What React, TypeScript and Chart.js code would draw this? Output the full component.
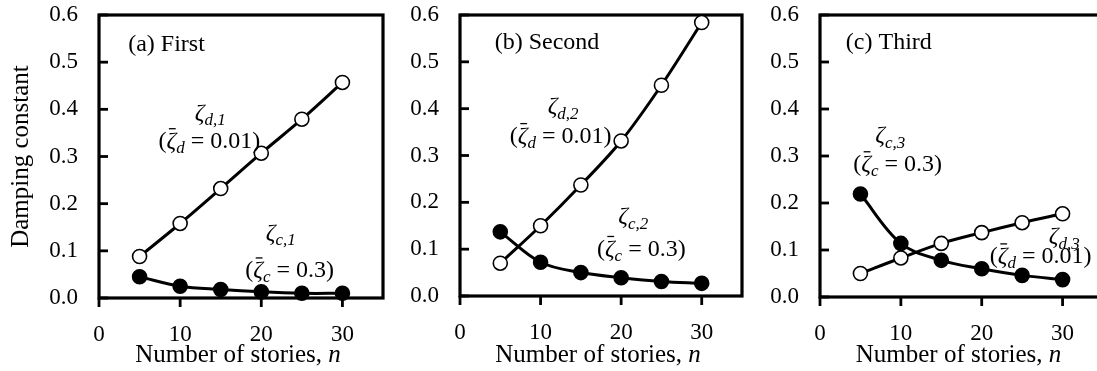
import React, { useEffect, useRef } from "react";
import { Chart, registerables } from "chart.js";
Chart.register(...registerables);

// ---------------- data ----------------
const stories = [5, 10, 15, 20, 25, 30];
const xTickValues = [0, 10, 20, 30];
const yTickValues = [0, 0.1, 0.2, 0.3, 0.4, 0.5, 0.6];

const zetaD1 = [0.088, 0.158, 0.232, 0.307, 0.379, 0.457];
const zetaC1 = [0.045, 0.025, 0.018, 0.013, 0.01, 0.01];
const zetaD2 = [0.07, 0.15, 0.237, 0.331, 0.45, 0.584];
const zetaC2 = [0.137, 0.072, 0.05, 0.039, 0.031, 0.027];
const zetaD3 = [0.05, 0.083, 0.114, 0.137, 0.158, 0.177];
const zetaC3 = [0.219, 0.114, 0.078, 0.06, 0.046, 0.037];

const panelTitles = ["(a) First", "(b) Second", "(c) Third"];
const xAxisTitle = "Number of stories, ";
const xAxisVar = "n";
const yAxisTitle = "Damping constant";

// ---------------- styling / layout ----------------
const FAM = '"Liberation Serif", "Times New Roman", Times, serif';
const TICK_SIZE = 23;
const ANN_SIZE = 24;
const TITLE_SIZE = 25;

type Seg = { t: string; it?: boolean; sub?: boolean; bar?: boolean };
type Ann = { x: number; y: number; segs: Seg[] };

const zetaLabel = (s: string, n: string): Seg[] => [
  { t: "\u03b6", it: true },
  { t: s + "," + n, it: true, sub: true },
];
const barLabel = (s: string, v: string): Seg[] => [
  { t: "(" },
  { t: "\u03b6", it: true, bar: true },
  { t: s, it: true, sub: true },
  { t: " = " + v + ")" },
];

const panels = [
  {
    left: 0, width: 395, yWidth: 99, padRight: 12, bottom: 298, showYTitle: true,
    open: zetaD1, filled: zetaC1, title: panelTitles[0], titleX: 3.6, titleY: 0.536,
    anns: [
      { x: 13.7, y: 0.395, segs: zetaLabel("d", "1") },
      { x: 13.6, y: 0.335, segs: barLabel("d", "0.01") },
      { x: 22.4, y: 0.14, segs: zetaLabel("c", "1") },
      { x: 23.5, y: 0.061, segs: barLabel("c", "0.3") },
    ] as Ann[],
  },
  {
    left: 400, width: 352, yWidth: 60, padRight: 10, bottom: 296, showYTitle: false,
    open: zetaD2, filled: zetaC2, title: panelTitles[1], titleX: 4.3, titleY: 0.54,
    anns: [
      { x: 12.8, y: 0.407, segs: zetaLabel("d", "2") },
      { x: 12.5, y: 0.344, segs: barLabel("d", "0.01") },
      { x: 21.5, y: 0.172, segs: zetaLabel("c", "2") },
      { x: 22.5, y: 0.103, segs: barLabel("c", "0.3") },
    ] as Ann[],
  },
  {
    left: 760, width: 355, yWidth: 60, padRight: 12, bottom: 297, showYTitle: false,
    open: zetaD3, filled: zetaC3, title: panelTitles[2], titleX: 3.2, titleY: 0.54,
    anns: [
      { x: 8.7, y: 0.346, segs: zetaLabel("c", "3") },
      { x: 9.6, y: 0.285, segs: barLabel("c", "0.3") },
      { x: 30.2, y: 0.131, segs: zetaLabel("d", "3") },
      { x: 27.3, y: 0.089, segs: barLabel("d", "0.01") },
    ] as Ann[],
  },
];

const H = 371;

function segFont(s: Seg, size: number) {
  const sz = s.sub ? Math.round(size * 0.7) : size;
  return `${s.it ? "italic " : ""}${sz}px ${FAM}`;
}

function drawRich(ctx: CanvasRenderingContext2D, segs: Seg[], cx: number, cy: number, size: number) {
  let total = 0;
  const ws: number[] = [];
  for (const s of segs) {
    ctx.font = segFont(s, size);
    const w = ctx.measureText(s.t).width;
    ws.push(w);
    total += w;
  }
  let x = cx - total / 2;
  const base = cy + size * 0.33;
  ctx.fillStyle = "#000";
  ctx.textAlign = "left";
  ctx.textBaseline = "alphabetic";
  segs.forEach((s, i) => {
    ctx.font = segFont(s, size);
    const y = s.sub ? base + size * 0.22 : base;
    ctx.fillText(s.t, x, y);
    if (s.bar) {
      ctx.strokeStyle = "#000";
      ctx.lineWidth = 1.3;
      ctx.beginPath();
      ctx.moveTo(x + ws[i] * 0.25, base - size * 0.8);
      ctx.lineTo(x + ws[i] * 0.95, base - size * 0.8);
      ctx.stroke();
    }
    x += ws[i];
  });
}

function makeChart(canvas: HTMLCanvasElement, p: (typeof panels)[number]) {
  const pts = (arr: number[]) => stories.map((n, i) => ({ x: n, y: arr[i] }));
  const framePlugin = {
    id: "frame",
    beforeDatasetsDraw(chart: any) {
      const { ctx, chartArea: a, scales } = chart;
      ctx.save();
      ctx.strokeStyle = "#000";
      ctx.lineWidth = 3.2;
      ctx.strokeRect(a.left, a.top, a.right - a.left, a.bottom - a.top);
      ctx.lineWidth = 2.8;
      for (const v of yTickValues) {
        const py = scales.y.getPixelForValue(v);
        ctx.beginPath();
        ctx.moveTo(a.left, py);
        ctx.lineTo(a.left + 9, py);
        ctx.stroke();
      }
      for (const v of xTickValues) {
        const px = scales.x.getPixelForValue(v);
        ctx.beginPath();
        ctx.moveTo(px, a.bottom);
        ctx.lineTo(px, a.bottom + 9);
        ctx.stroke();
      }
      ctx.restore();
    },
    afterDatasetsDraw(chart: any) {
      const { ctx, chartArea: a, scales } = chart;
      ctx.save();
      // panel title
      ctx.fillStyle = "#000";
      ctx.font = `${ANN_SIZE}px ${FAM}`;
      ctx.textAlign = "left";
      ctx.textBaseline = "middle";
      ctx.fillText(p.title, scales.x.getPixelForValue(p.titleX), scales.y.getPixelForValue(p.titleY));
      for (const an of p.anns) {
        drawRich(ctx, an.segs, scales.x.getPixelForValue(an.x), scales.y.getPixelForValue(an.y), ANN_SIZE);
      }
      // x axis title with italic n
      ctx.textBaseline = "alphabetic";
      ctx.font = `${TITLE_SIZE}px ${FAM}`;
      const w1 = ctx.measureText(xAxisTitle).width;
      ctx.font = `italic ${TITLE_SIZE}px ${FAM}`;
      const w2 = ctx.measureText(xAxisVar).width;
      const cx = (a.left + a.right) / 2 - 3;
      const x = cx - (w1 + w2) / 2;
      ctx.font = `${TITLE_SIZE}px ${FAM}`;
      ctx.fillText(xAxisTitle, x, 362);
      ctx.font = `italic ${TITLE_SIZE}px ${FAM}`;
      ctx.fillText(xAxisVar, x + w1, 362);
      ctx.restore();
    },
  };

  const common = {
    borderColor: "#000",
    borderWidth: 3,
    pointRadius: 7,
    pointHoverRadius: 7,
    pointBorderColor: "#000",
    pointBorderWidth: 1.6,
    tension: 0.35,
    clip: false as any,
    fill: false,
  };

  const zeroPad = (s: any) => {
    s.paddingTop = 0;
    s.paddingBottom = 0;
    s.paddingLeft = 0;
    s.paddingRight = 0;
  };

  return new Chart(canvas, {
    type: "line",
    data: {
      datasets: [
        { ...common, label: "open", data: pts(p.open), pointBackgroundColor: "#fff" },
        { ...common, label: "filled", data: pts(p.filled), pointBackgroundColor: "#000" },
      ],
    },
    options: {
      responsive: false,
      maintainAspectRatio: false,
      animation: false,
      events: [],
      layout: { padding: { top: 15, right: p.padRight, bottom: 0, left: 0 } },
      plugins: { legend: { display: false }, tooltip: { enabled: false }, title: { display: false } },
      scales: {
        x: {
          type: "linear",
          min: 0,
          max: 35,
          afterBuildTicks: (s: any) => {
            s.ticks = xTickValues.map((v) => ({ value: v }));
          },
          afterFit: (s: any) => {
            s.height = H - p.bottom;
            zeroPad(s);
          },
          grid: { display: false, drawTicks: false },
          border: { display: false },
          ticks: {
            color: "#000",
            padding: 23,
            maxRotation: 0,
            font: { family: FAM, size: TICK_SIZE },
            callback: (v: any) => String(v),
          },
        },
        y: {
          type: "linear",
          min: 0,
          max: 0.6,
          afterBuildTicks: (s: any) => {
            s.ticks = yTickValues.map((v) => ({ value: v }));
          },
          afterFit: (s: any) => {
            s.width = p.yWidth;
            zeroPad(s);
          },
          grid: { display: false, drawTicks: false },
          border: { display: false },
          title: {
            display: p.showYTitle,
            text: yAxisTitle,
            color: "#000",
            font: { family: FAM, size: TITLE_SIZE },
            padding: { top: 6, bottom: 0 },
          },
          ticks: {
            color: "#000",
            padding: 21,
            font: { family: FAM, size: TICK_SIZE },
            callback: (v: any) => Number(v).toFixed(1),
          },
        },
      },
    },
    plugins: [framePlugin],
  } as any);
}

function Panel({ p }: { p: (typeof panels)[number] }) {
  const ref = useRef<HTMLCanvasElement | null>(null);
  useEffect(() => {
    if (!ref.current) return;
    const c = makeChart(ref.current, p);
    return () => c.destroy();
  }, []);
  return (
    <div style={{ position: "absolute", left: p.left, top: 0, width: p.width, height: H }}>
      <canvas ref={ref} width={p.width} height={H} style={{ width: p.width, height: H, display: "block" }} />
    </div>
  );
}

export default function App() {
  return (
    <div
      style={{
        position: "fixed",
        left: 0,
        top: 0,
        width: 1097,
        height: H,
        overflow: "hidden",
        background: "#fff",
      }}
    >
      {panels.map((p, i) => (
        <Panel key={i} p={p} />
      ))}
    </div>
  );
}
